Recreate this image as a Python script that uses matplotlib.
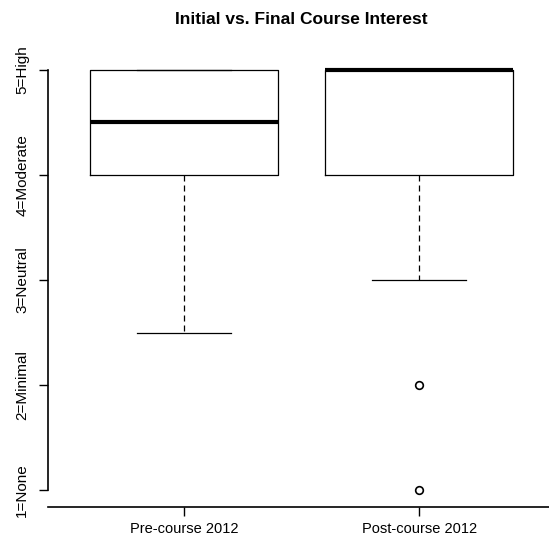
import matplotlib.pyplot as plt

plt.rcParams['font.family'] = ['Liberation Sans', 'DejaVu Sans']

groups = ["Pre-course 2012", "Post-course 2012"]
whislo = [2.5, 3]
q1 = [4, 4]
med = [4.5, 5]
q3 = [5, 5]
whishi = [5, 5]
fliers = [[], [2, 1]]
ytick_vals = [1, 2, 3, 4, 5]
ytick_labels = ["1=None", "2=Minimal", "3=Neutral", "4=Moderate", "5=High"]

stats = []
for i in range(len(groups)):
    stats.append({
        "label": groups[i], "whislo": whislo[i], "q1": q1[i], "med": med[i],
        "q3": q3[i], "whishi": whishi[i], "fliers": fliers[i],
    })

fig = plt.figure(figsize=(5.49, 5.44), dpi=100)
ax = fig.add_axes([48 / 549, 1 - 507 / 544, 1.012 - 48 / 549, (507 - 53) / 544])

ax.bxp(stats, positions=[1, 2], widths=0.8, showfliers=True,
       boxprops=dict(color="black", linewidth=0.9),
       medianprops=dict(color="black", linewidth=3, solid_capstyle="butt"),
       whiskerprops=dict(color="black", linewidth=0.9, linestyle=(0, (4.8, 3.2))),
       capprops=dict(color="black", linewidth=0.9),
       capwidths=0.4,
       flierprops=dict(marker="o", markerfacecolor="white", markeredgecolor="black",
                       markersize=5.5, markeredgewidth=1.2))

ax.set_xlim(1 - 136 / 235, 2.5 + 0.08)
ax.set_ylim(1 - 0.16, 5 + 0.16)
ax.set_yticks(ytick_vals)
ax.set_yticklabels(ytick_labels, rotation=90, va="center", fontsize=11)
ax.set_xticks([1, 2])
ax.set_xticklabels(groups, fontsize=10.5)
ax.tick_params(axis="both", length=6.5, width=1, color="black")
ax.tick_params(axis="x", pad=4)
ax.tick_params(axis="y", pad=7)

ax.spines["top"].set_visible(False)
ax.spines["right"].set_visible(False)
ax.spines["left"].set_bounds(1, 5)
for s in ["left", "bottom"]:
    ax.spines[s].set_linewidth(1.2)

ax.set_title("Initial vs. Final Course Interest", fontsize=12.5, fontweight="bold", pad=21)

fig.savefig("out.png", dpi=100)
